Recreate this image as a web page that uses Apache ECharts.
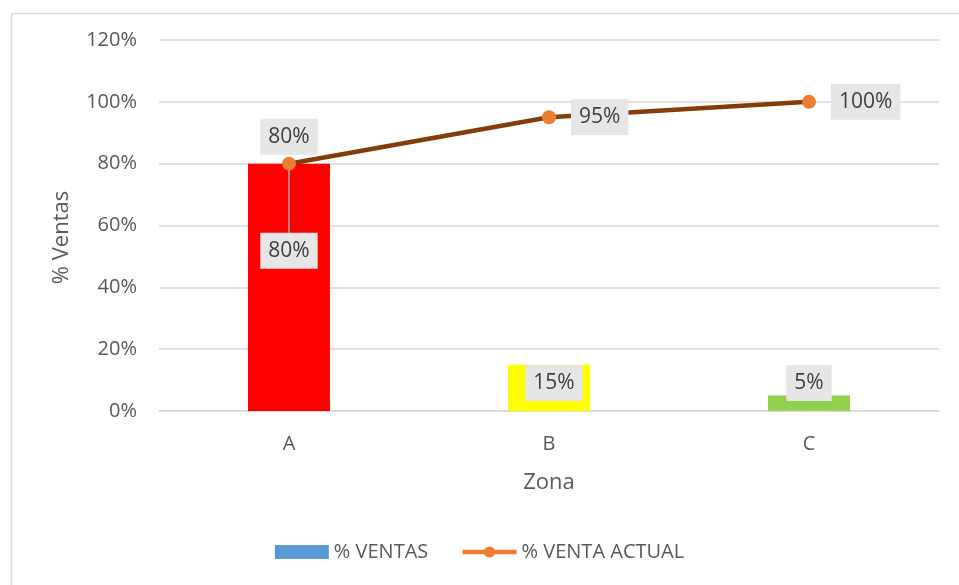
<!DOCTYPE html>
<html><head><meta charset="utf-8">
<script src="https://cdn.jsdelivr.net/npm/echarts@6/dist/echarts.min.js"></script>
<style>html,body{margin:0;padding:0;background:#fff}#c{width:959px;height:585px}</style>
</head><body><div id="c"></div>
<script>
const categories = ['A', 'B', 'C'];
const ventas = [80, 15, 5];
const ventaActual = [80, 95, 100];
const barColors = ['#FF0000', '#FFFF00', '#92D050'];
const yTicks = [0, 20, 40, 60, 80, 100, 120];
const leaderEnd = 57.5;

const FONT = 'Open Sans';
const labelBox = {backgroundColor: '#E7E6E6', padding: [8, 8, 7, 8], color: '#404040', fontSize: 21, fontFamily: FONT, formatter: p => p.value + '%'};

const chart = echarts.init(document.getElementById('c'));
chart.setOption({
  animation: false,
  textStyle: {fontFamily: FONT},
  graphic: [{type: 'rect', left: 9, top: 11, shape: {width: 980, height: 600}, style: {fill: 'none', stroke: '#D9D9D9', lineWidth: 1.5}, silent: true}],
  grid: {left: 159, right: 20, top: 40, bottom: 174},
  legend: {
    bottom: 18, left: 'center', itemWidth: 54, itemHeight: 14, itemGap: 32,
    textStyle: {fontSize: 20, color: '#595959', fontFamily: FONT},
    data: [
      {name: '% VENTAS', icon: 'rect', itemStyle: {color: '#5B9BD5'}},
      {name: '% VENTA ACTUAL', itemStyle: {color: '#ED7D31'}, lineStyle: {color: '#ED7D31', width: 4.5}}
    ]
  },
  xAxis: {
    type: 'category', data: categories,
    name: 'Zona', nameLocation: 'middle', nameGap: 61,
    nameTextStyle: {fontSize: 22, color: '#595959', fontFamily: FONT},
    axisLine: {lineStyle: {color: '#D9D9D9', width: 1.5}},
    axisTick: {show: false},
    axisLabel: {fontSize: 20, color: '#595959', margin: 23, fontFamily: FONT}
  },
  yAxis: {
    type: 'value', min: yTicks[0], max: yTicks[yTicks.length - 1], interval: 20,
    name: '% Ventas', nameLocation: 'middle', nameGap: 86, nameRotate: 90,
    nameTextStyle: {fontSize: 22, color: '#595959', fontFamily: FONT, padding: [0, 0, 0, -24]},
    axisLine: {show: false}, axisTick: {show: false},
    axisLabel: {fontSize: 20, color: '#595959', margin: 22, formatter: '{value}%', fontFamily: FONT},
    splitLine: {lineStyle: {color: '#D9D9D9', width: 1.5}}
  },
  series: [
    {
      name: '% VENTAS', type: 'bar', barWidth: 82, z: 2,
      itemStyle: {color: '#5B9BD5'},
      data: ventas.map((v, i) => ({
        value: v,
        itemStyle: {color: barColors[i]},
        label: i === 0 ? {show: true, position: 'insideTop', distance: 69, ...labelBox}
                       : {show: true, position: 'insideBottom', distance: 10, offset: [i === 1 ? 5 : 0, 0], ...labelBox}
      })),
      markLine: {
        silent: true, symbol: 'none', label: {show: false},
        lineStyle: {color: '#A6A6A6', width: 1.5, type: 'solid'},
        data: [[{coord: [categories[0], ventaActual[0]]}, {coord: [categories[0], leaderEnd]}]]
      }
    },
    {
      name: '% VENTA ACTUAL', type: 'line', z: 5,
      symbol: 'circle', symbolSize: 14,
      lineStyle: {color: '#843C0C', width: 4.5},
      itemStyle: {color: '#ED7D31'},
      data: ventaActual.map((v, i) => ({
        value: v,
        label: {show: true, position: i === 0 ? 'top' : 'right', distance: i === 0 ? 2 : 15, ...labelBox}
      }))
    }
  ]
});
</script></body></html>
